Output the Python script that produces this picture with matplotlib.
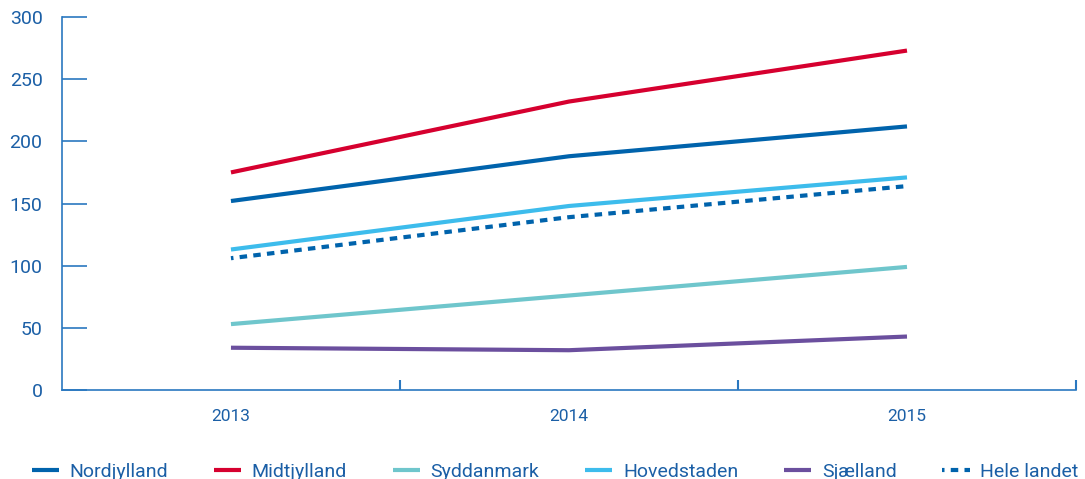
import matplotlib.pyplot as plt

# Data
years = ['2013', '2014', '2015']
nordjylland = [152, 188, 212]
midtjylland = [175, 232, 273]
syddanmark = [53, 76, 99]
hovedstaden = [113, 148, 171]
sjaelland = [34, 32, 43]
hele_landet = [106, 139, 164]

text_color = '#1b5fa6'
axis_color = '#2a78c0'

plt.rcParams['font.family'] = ['Roboto', 'DejaVu Sans']

fig = plt.figure(figsize=(10.85, 4.79), dpi=100)
ax = fig.add_axes([0.0571, 0.1858, 0.9346, 0.7787])

x = range(len(years))
lw = 3.0
ax.plot(x, nordjylland, color='#0063ac', lw=lw, label='Nordjylland', solid_capstyle='butt')
ax.plot(x, midtjylland, color='#d6002f', lw=lw, label='Midtjylland', solid_capstyle='butt')
ax.plot(x, syddanmark, color='#6fc6cc', lw=lw, label='Syddanmark', solid_capstyle='butt')
ax.plot(x, hovedstaden, color='#3dbcec', lw=lw, label='Hovedstaden', solid_capstyle='butt')
ax.plot(x, sjaelland, color='#6b4f9e', lw=lw, label='Sjælland', solid_capstyle='butt')
ax.plot(x, hele_landet, color='#0063ac', lw=lw, label='Hele landet',
        linestyle=(1.2, (1.8, 1.5)), dash_capstyle='butt')

ax.set_xlim(-0.5, 2.5)
ax.set_ylim(0, 300)

# y axis ticks pointing inwards
ax.set_yticks([0, 50, 100, 150, 200, 250, 300])
ax.tick_params(axis='y', direction='in', length=18, width=1.2, color=axis_color,
               labelcolor=text_color, labelsize=14, pad=14)

# x axis: labels centred on categories, ticks at the category borders
ax.set_xticks([0, 1, 2])
ax.set_xticklabels(years)
ax.set_xticks([0.5, 1.5, 2.5], minor=True)
ax.tick_params(axis='x', which='major', length=0, labelcolor=text_color,
               labelsize=12.5, pad=14)
ax.tick_params(axis='x', which='minor', direction='in', length=7, width=1.5,
               color=axis_color)

for side in ['top', 'right']:
    ax.spines[side].set_visible(False)
for side in ['left', 'bottom']:
    ax.spines[side].set_color(axis_color)
    ax.spines[side].set_linewidth(1.2)

leg = fig.legend(loc='lower left', bbox_to_anchor=(0.013, -0.04), ncol=6,
                 frameon=False, fontsize=14, handlelength=1.4, handletextpad=0.55,
                 columnspacing=2.35)
for t in leg.get_texts():
    t.set_color(text_color)

fig.savefig('out.png', dpi=100)
